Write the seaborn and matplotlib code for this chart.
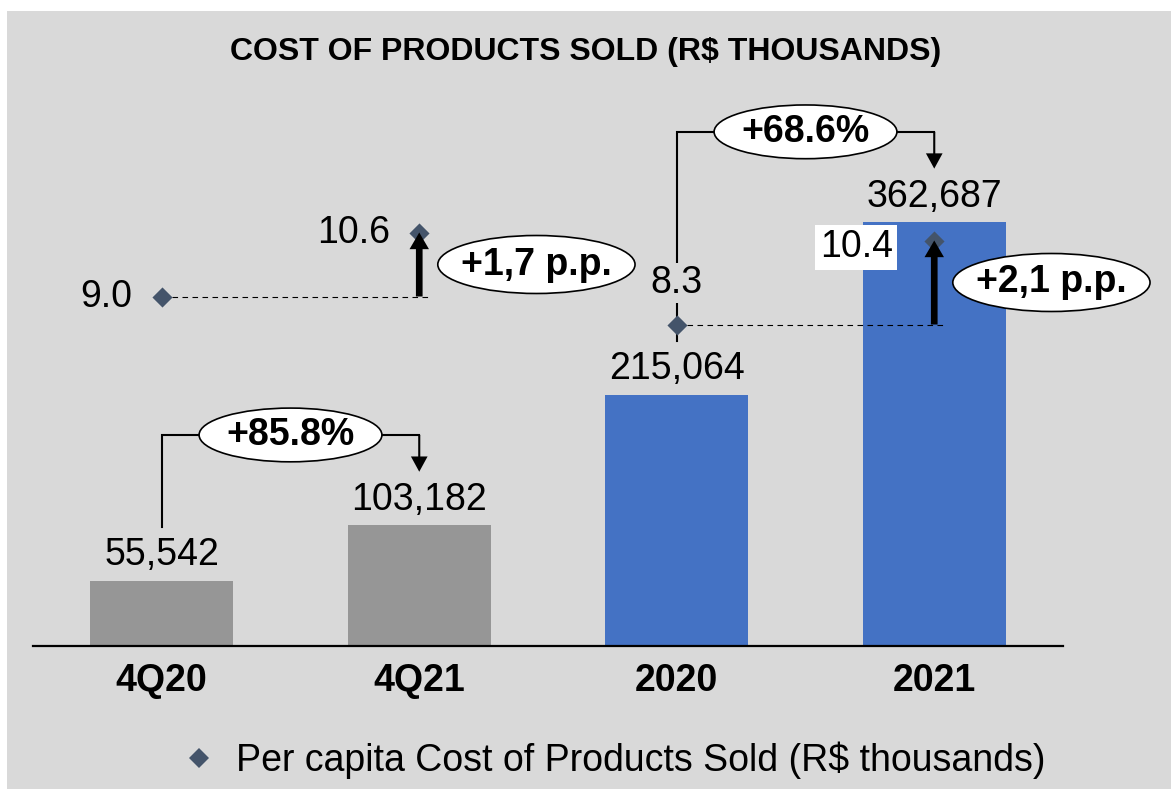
import numpy as np
import pandas as pd
import matplotlib.pyplot as plt
import seaborn as sns
from matplotlib.patches import Ellipse, Rectangle
from matplotlib.lines import Line2D

# --- Donnees ---
periods = ["4Q20", "4Q21", "2020", "2021"]
cost_sold = [55542, 103182, 215064, 362687]
per_capita = [9.0, 10.6, 8.3, 10.4]
bar_colors = ["#969696", "#969696", "#4472c4", "#4472c4"]
growth_labels = ["+85.8%", "+68.6%"]
pp_labels = ["+1,7 p.p.", "+2,1 p.p."]
legend_label = "Per capita Cost of Products Sold (R$ thousands)"
title = "COST OF PRODUCTS SOLD (R$ THOUSANDS)"

# --- Style ---
BG = "#d9d9d9"
DIAMOND = "#44546a"
W, H, DPI = 1171, 789, 100
FS = 27

sns.set_style("white")
plt.rcParams["font.family"] = ["Liberation Sans", "DejaVu Sans"]
plt.rcParams["text.color"] = "black"
plt.rcParams["xtick.color"] = "black"

fig = plt.figure(figsize=(W / DPI, H / DPI), dpi=DPI, facecolor="white")
fig.patches.append(Rectangle((7 / W, 0), 1 - 7 / W, 1 - 11 / H, transform=fig.transFigure,
                             facecolor=BG, edgecolor="none", zorder=-10))

ax = fig.add_axes([33 / W, 1 - 646 / H, 1030 / W, 556 / H])
ax.set_facecolor("none")

# barres
df = pd.DataFrame({"period": periods, "cost": cost_sold})
sns.barplot(data=df, x="period", y="cost", hue="period", palette=bar_colors,
            saturation=1, width=0.556, legend=False, linewidth=0, edgecolor="none",
            ax=ax, zorder=1)
ax.set_ylim(0, 476000)
for i, v in enumerate(cost_sold):
    ax.annotate(f"{v:,}", (i, v), xytext=(0, 18.5), textcoords="offset points",
                ha="center", va="center", fontsize=FS)

# crochets de croissance (4Q20->4Q21, 2020->2021)
for k, lab in enumerate(growth_labels):
    a, b = 2 * k, 2 * k + 1
    top = cost_sold[b] + 77500
    ax.plot([a, a, b], [cost_sold[a] + 46000, top, top], color="black", lw=1.5,
            solid_capstyle="projecting", solid_joinstyle="miter", zorder=3)
    ax.annotate("", xy=(b, cost_sold[b] + 46000), xytext=(b, top),
                arrowprops=dict(width=1.5, headwidth=12, headlength=11, shrink=0,
                                facecolor="black", edgecolor="none"), zorder=3)
    ax.add_patch(Ellipse(((a + b) / 2, top), width=0.71, height=46000, facecolor="white",
                         edgecolor="black", lw=1.2, zorder=4))
    ax.text((a + b) / 2, top, lab, ha="center", va="center", fontsize=FS,
            fontweight="bold", zorder=5)

ax.set_xticks(range(len(periods)))
ax.set_xticklabels(periods, fontsize=FS, fontweight="bold")
ax.tick_params(axis="x", length=0, pad=12)
ax.set_yticks([])
ax.set_xlabel("")
ax.set_ylabel("")
sns.despine(ax=ax, left=True)
ax.spines["bottom"].set_color("black")
ax.spines["bottom"].set_linewidth(1.6)

# axe secondaire : per capita
ax2 = ax.twinx()
ax2.set_facecolor("none")
sns.scatterplot(x=np.arange(len(periods)), y=per_capita, marker="D", s=105,
                color=DIAMOND, linewidth=0, ax=ax2, zorder=3)
ax2.set_ylim(0.2625, 14.1625)
ax2.set_yticks([])
for s in ax2.spines.values():
    s.set_visible(False)

for k, lab in enumerate(pp_labels):
    a, b = 2 * k, 2 * k + 1
    ax2.plot([a, b + 0.035], [per_capita[a], per_capita[a]], color="black", lw=0.8,
             ls=(0, (5, 4)), zorder=2)
    ax2.annotate("", xy=(b, per_capita[b]), xytext=(b, per_capita[a]),
                 arrowprops=dict(width=4.8, headwidth=14, headlength=12, shrink=0,
                                 facecolor="black", edgecolor="none"), zorder=4)
    mid = (per_capita[a] + per_capita[b]) / 2
    ax2.add_patch(Ellipse((b + 0.455, mid), width=0.766, height=1.45, facecolor="white",
                          edgecolor="black", lw=1.2, zorder=5, clip_on=False))
    ax2.text(b + 0.455, mid, lab, ha="center", va="center", fontsize=FS,
             fontweight="bold", zorder=6, clip_on=False)

# etiquettes per capita
ax2.annotate(f"{per_capita[0]:.1f}", (0, per_capita[0]), xytext=(-21, 0), textcoords="offset points",
             ha="right", va="center", fontsize=FS)
ax2.annotate(f"{per_capita[1]:.1f}", (1, per_capita[1]), xytext=(-21, 0), textcoords="offset points",
             ha="right", va="center", fontsize=FS)
ax2.annotate(f"{per_capita[2]:.1f}", (2, per_capita[2]), xytext=(0, 30), textcoords="offset points",
             ha="center", va="center", fontsize=FS, zorder=6,
             bbox=dict(boxstyle="square,pad=0.05", facecolor=BG, edgecolor="none"))
ax2.annotate(f"{per_capita[3]:.1f}", (3, per_capita[3]), xytext=(-56, -5), textcoords="offset points",
             ha="center", va="center", fontsize=FS, zorder=6,
             bbox=dict(boxstyle="square,pad=0.12", facecolor="white", edgecolor="none"))

ax.set_xlim(-0.5, 3.5)

fig.text(586 / W, 1 - 52 / H, title, ha="center", va="center", fontsize=23, fontweight="bold")

handle = Line2D([], [], marker="D", ls="none", color=DIAMOND, ms=10.2, mew=0)
fig.legend([handle], [legend_label], loc="center left", bbox_to_anchor=(180 / W, 1 - 760 / H),
           frameon=False, fontsize=FS, handlelength=1.0, handletextpad=0.5,
           borderpad=0, borderaxespad=0)

plt.savefig("out.png", dpi=DPI, facecolor=fig.get_facecolor())
